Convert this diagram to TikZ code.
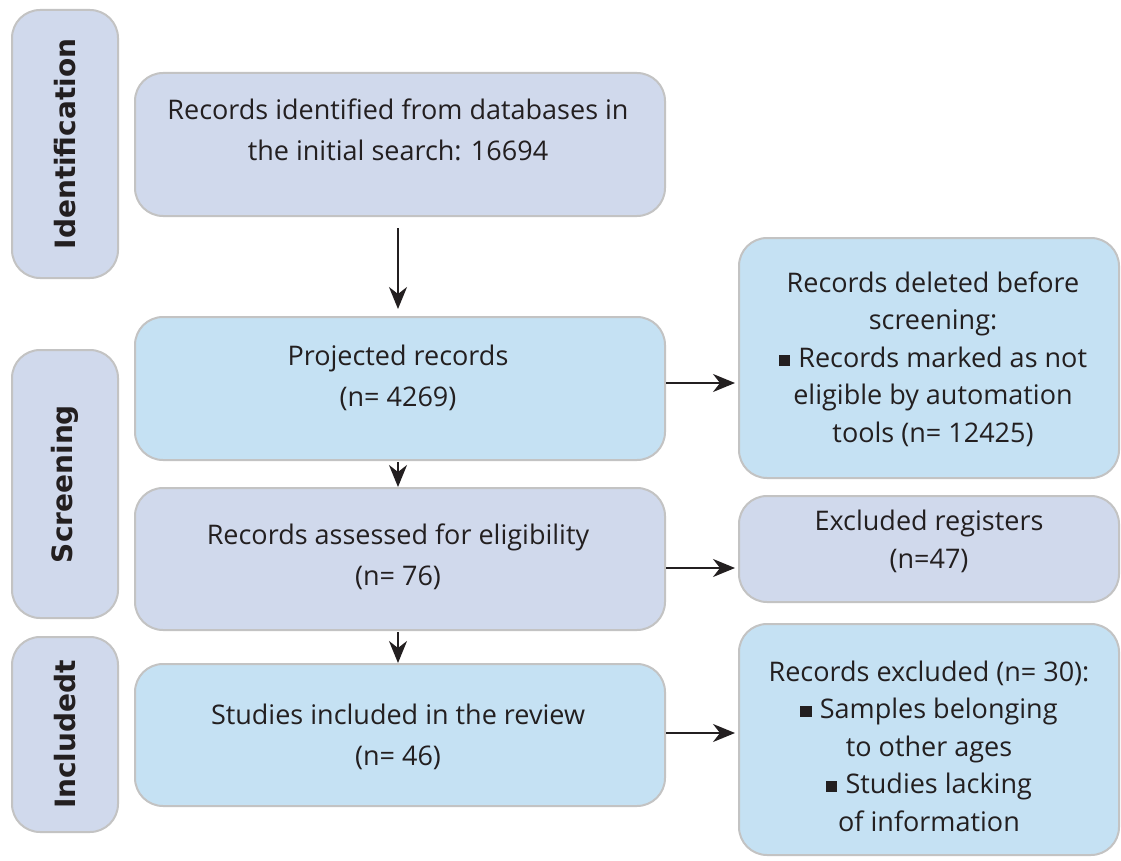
\documentclass[tikz,border=0pt]{standalone}
\usepackage{fontspec}
\setmainfont{Open Sans}
\newfontfamily\sidefont{DejaVu Sans}
\usetikzlibrary{arrows.meta}
\definecolor{lav}{RGB}{208,217,236}
\definecolor{lblue}{RGB}{197,225,243}
\definecolor{bord}{RGB}{195,195,195}
\definecolor{ink}{RGB}{35,31,32}
\newcommand{\sq}{\rule[0.05em]{0.42em}{0.42em}\hspace{0.3em}}
\tikzset{
  box/.style={draw=bord, line width=2pt, rounded corners=28pt, inner sep=0pt},
  lavbox/.style={box, fill=lav},
  bluebox/.style={box, fill=lblue},
  txt/.style={text=ink, align=center, font=\fontsize{27}{41}\selectfont},
  rtxt/.style={text=ink, align=center, font=\fontsize{27}{37.5}\selectfont},
  side/.style={box, fill=lav, text=ink, font=\sidefont\bfseries\fontsize{28}{30}\selectfont, rotate=90},
  arr/.style={draw=ink, line width=2pt, -{Stealth[length=22pt,width=18pt,inset=7pt]}}
}
\begin{document}
\begin{tikzpicture}[x=1pt,y=-1pt]
\useasboundingbox (0,0) rectangle (1121,861);
% side labels
\node[side, minimum width=268pt, minimum height=106pt] (s1) at (65,144) {Identification};
\node[side, minimum width=268pt, minimum height=106pt] (s2) at (65,484) {Screening};
\node[side, minimum width=195pt, minimum height=106pt] (s3) at (65,734.5) {Includedt};
% main column
\node[lavbox, minimum width=530pt, minimum height=143pt] (b1) at (400,144.5) {};
\node[txt] (t1) at (398,130) {Records identified from databases in\\the initial search: 16694};
\node[bluebox, minimum width=530pt, minimum height=143pt] (b2) at (400,388.5) {};
\node[txt] (t2) at (398,378) {Projected records\\(n= 4269)};
\node[lavbox, minimum width=530pt, minimum height=142pt] (b3) at (400,559) {};
\node[txt] (t3) at (398,557) {Records assessed for eligibility\\(n= 76)};
\node[bluebox, minimum width=530pt, minimum height=142pt] (b4) at (400,735) {};
\node[txt] (t4) at (398,737) {Studies included in the review\\(n= 46)};
% right column
\node[bluebox, minimum width=380pt, minimum height=240pt] (ra) at (929,358) {};
\node[rtxt] (ta) at (933,359) {Records deleted before\\screening:\\\sq Records marked as not\\eligible by automation\\tools (n= 12425)};
\node[lavbox, minimum width=380pt, minimum height=106pt] (rb) at (929,549) {};
\node[rtxt] (tb) at (929,541.5) {Excluded registers\\(n=47)};
\node[bluebox, minimum width=380pt, minimum height=231pt] (rc) at (929,739.5) {};
\node[rtxt] (tc) at (929,746) {Records excluded (n= 30):\\\sq Samples belonging\\to other ages\\\sq Studies lacking\\of information};
% arrows
\coordinate (a1s) at (398,228);
\coordinate (a1e) at (398,309);
\draw[arr] (a1s) -- (a1e);
\draw[arr] (b2.south -| 398,0) ++(0,1) coordinate (a2s) -- (398,487) coordinate (a2e);
\draw[arr] (b3.south -| 398,0) ++(0,1) coordinate (a3s) -- (398,663) coordinate (a3e);
\draw[arr] (b2.east |- 0,383) -- ([xshift=-3pt]ra.west |- 0,383);
\draw[arr] (b3.east |- 0,568) -- ([xshift=-3pt]rb.west |- 0,568);
\draw[arr] (b4.east |- 0,733) -- ([xshift=-3pt]rc.west |- 0,733);
\end{tikzpicture}
\end{document}
